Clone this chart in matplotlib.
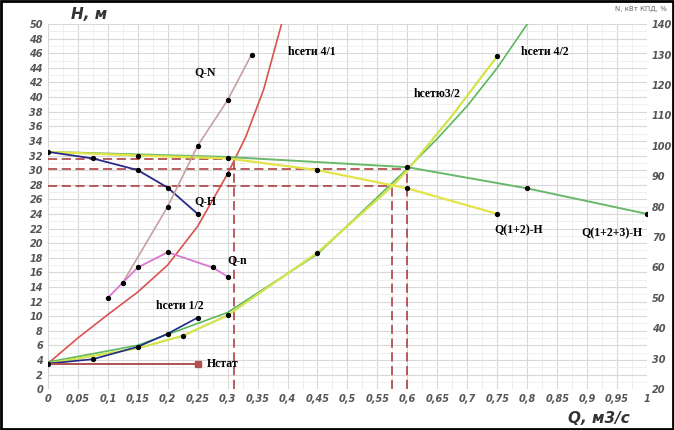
import matplotlib

matplotlib.use("Agg")
import matplotlib.pyplot as plt
from matplotlib.patches import Rectangle
import numpy as np

# pump curves (H, m)
qh_q = [0, 0.075, 0.15, 0.2, 0.25]
qh_h = [32.5, 31.6, 30.0, 27.6, 24.0]
q12_q = [0, 0.15, 0.3, 0.45, 0.6, 0.75]
q12_h = [32.5, 32.0, 31.6, 30.0, 27.5, 24.0]
q123_q = [0, 0.3, 0.6, 0.8, 1.0]
q123_h = [32.5, 31.8, 30.4, 27.5, 24.0]
# network curves
h41_q = [0, 0.05, 0.1, 0.15, 0.2, 0.25, 0.3, 0.33, 0.36, 0.39]
h41_h = [3.5, 7.0, 10.2, 13.3, 17.0, 22.3, 29.5, 34.5, 41.0, 50.0]
h12_q = [0, 0.075, 0.15, 0.2, 0.25]
h12_h = [3.5, 4.1, 5.8, 7.6, 9.8]
h32_q = [0, 0.15, 0.225, 0.3, 0.45, 0.575, 0.6, 0.675, 0.75]
h32_h = [3.5, 5.6, 7.3, 10.1, 18.7, 27.8, 30.0, 37.5, 45.6]
h42_q = [0, 0.15, 0.3, 0.45, 0.6, 0.65, 0.7, 0.75, 0.8]
h42_h = [3.7, 6.0, 10.5, 18.5, 30.2, 34.3, 38.8, 44.0, 50.0]
# power and efficiency (right axis)
qn_q = [0.125, 0.2, 0.25, 0.3, 0.34]
qn_v = [55, 80, 100, 115, 130]
eta_q = [0.1, 0.15, 0.2, 0.275, 0.3]
eta_v = [50, 60, 65, 60, 57]
hstat_q = [0, 0.25]
hstat_h = [3.5, 3.5]
# operating points: (Q, H)
op_q = [0.31, 0.6, 0.575]
op_h = [31.5, 30.2, 27.8]

plt.rcParams["font.family"] = ["DejaVu Sans"]
fig = plt.figure(figsize=(6.74, 4.3), dpi=100)
fig.patches.append(Rectangle((0.002, 0.003), 0.996, 0.994, transform=fig.transFigure,
                             fill=False, edgecolor="black", linewidth=2))
ax = fig.add_axes([0.071, 0.095, 0.889, 0.849])
ax.set_xlim(0, 1)
ax.set_ylim(0, 50)
ax.set_xticks(np.arange(0, 1.001, 0.05))
ax.set_xticks(np.arange(0, 1.001, 0.025), minor=True)
ax.set_yticks(np.arange(0, 51, 2))
ax.set_yticks(np.arange(0, 51, 1), minor=True)
ax.set_xticklabels([f"{v:g}".replace(".", ",") for v in np.arange(0, 1.001, 0.05).round(2)])
ax.grid(which="major", color="#d8d8d8", linewidth=0.8)
ax.grid(which="minor", color="#ececec", linewidth=0.6)
for s in ax.spines.values():
    s.set_visible(False)
ax.tick_params(which="both", length=0, labelsize=7, colors="#555555")
for lab in ax.get_xticklabels() + ax.get_yticklabels():
    lab.set_fontstyle("italic")
    lab.set_fontweight("bold")

ax2 = ax.twinx()
ax2.set_ylim(20, 140)
ax2.set_yticks(np.arange(20, 141, 10))
for s in ax2.spines.values():
    s.set_visible(False)
ax2.tick_params(which="both", length=0, labelsize=7, colors="#555555")
for lab in ax2.get_yticklabels():
    lab.set_fontstyle("italic")
    lab.set_fontweight("bold")

dash = dict(color="#a83232", linestyle=(0, (6, 3)), linewidth=1.1)
for q, h in zip(op_q, op_h):
    ax.plot([0, q], [h, h], **dash)
    ax.plot([q, q], [0, h], **dash)

ax.plot(h41_q, h41_h, color="#d9534f", linewidth=1.2)
ax.plot(h42_q, h42_h, color="#5cb85c", linewidth=1.2)
ax.plot(h32_q, h32_h, color="#d4e34a", linewidth=1.6)
ax.plot(h12_q, h12_h, color="#1f2a8a", linewidth=1.2)
ax.plot(q123_q, q123_h, color="#6ab86a", linewidth=1.4)
ax.plot(q12_q, q12_h, color="#e3e34a", linewidth=1.6)
ax.plot(qh_q, qh_h, color="#2a2a8a", linewidth=1.3)
ax.plot(hstat_q, hstat_h, color="#b05050", linewidth=1.4)
ax.plot(hstat_q[-1], hstat_h[-1], "s", color="#b05050", markersize=4)
ax2.plot(qn_q, qn_v, color="#c8a0a0", linewidth=1.2)
ax2.plot(eta_q, eta_v, color="#d878d0", linewidth=1.3)

mk = dict(linestyle="none", marker="o", color="black", markersize=2.8)
ax.plot(qh_q, qh_h, **mk)
ax.plot(q12_q[1:], q12_h[1:], **mk)
ax.plot(q123_q[2:], q123_h[2:], **mk)
ax.plot(h12_q, h12_h, **mk)
ax.plot([0.225, 0.3, 0.45, 0.75], [7.3, 10.1, 18.7, 45.6], **mk)
ax.plot([0.3], [29.5], **mk)
ax2.plot(qn_q, qn_v, **mk)
ax2.plot(eta_q, eta_v, **mk)

tf = dict(fontfamily="Liberation Serif", fontweight="bold", fontsize=8.5)
ax.text(0.4, 45.8, "hсети 4/1", **tf)
ax.text(0.79, 45.8, "hсети 4/2", **tf)
ax.text(0.61, 40.0, "hсетю3/2", **tf)
ax.text(0.245, 43, "Q-N", **tf)
ax.text(0.245, 25.3, "Q-H", **tf)
ax.text(0.3, 17.2, "Q-n", **tf)
ax.text(0.18, 11, "hсети 1/2", **tf)
ax.text(0.265, 3.0, "Hстат", **tf)
ax.text(0.745, 21.4, "Q(1+2)-H", **tf)
ax.text(0.89, 21.0, "Q(1+2+3)-H", **tf)

fig.text(0.105, 0.955, "H, м", fontsize=11, fontweight="bold", fontstyle="italic", color="#333333")
fig.text(0.935, 0.01, "Q, м3/с", fontsize=11, fontweight="bold", fontstyle="italic",
         color="#333333", ha="right", va="bottom")
fig.text(0.99, 0.975, "N, кВт КПД, %", fontsize=5, color="#666666", ha="right")

fig.savefig("out.png", dpi=100)
